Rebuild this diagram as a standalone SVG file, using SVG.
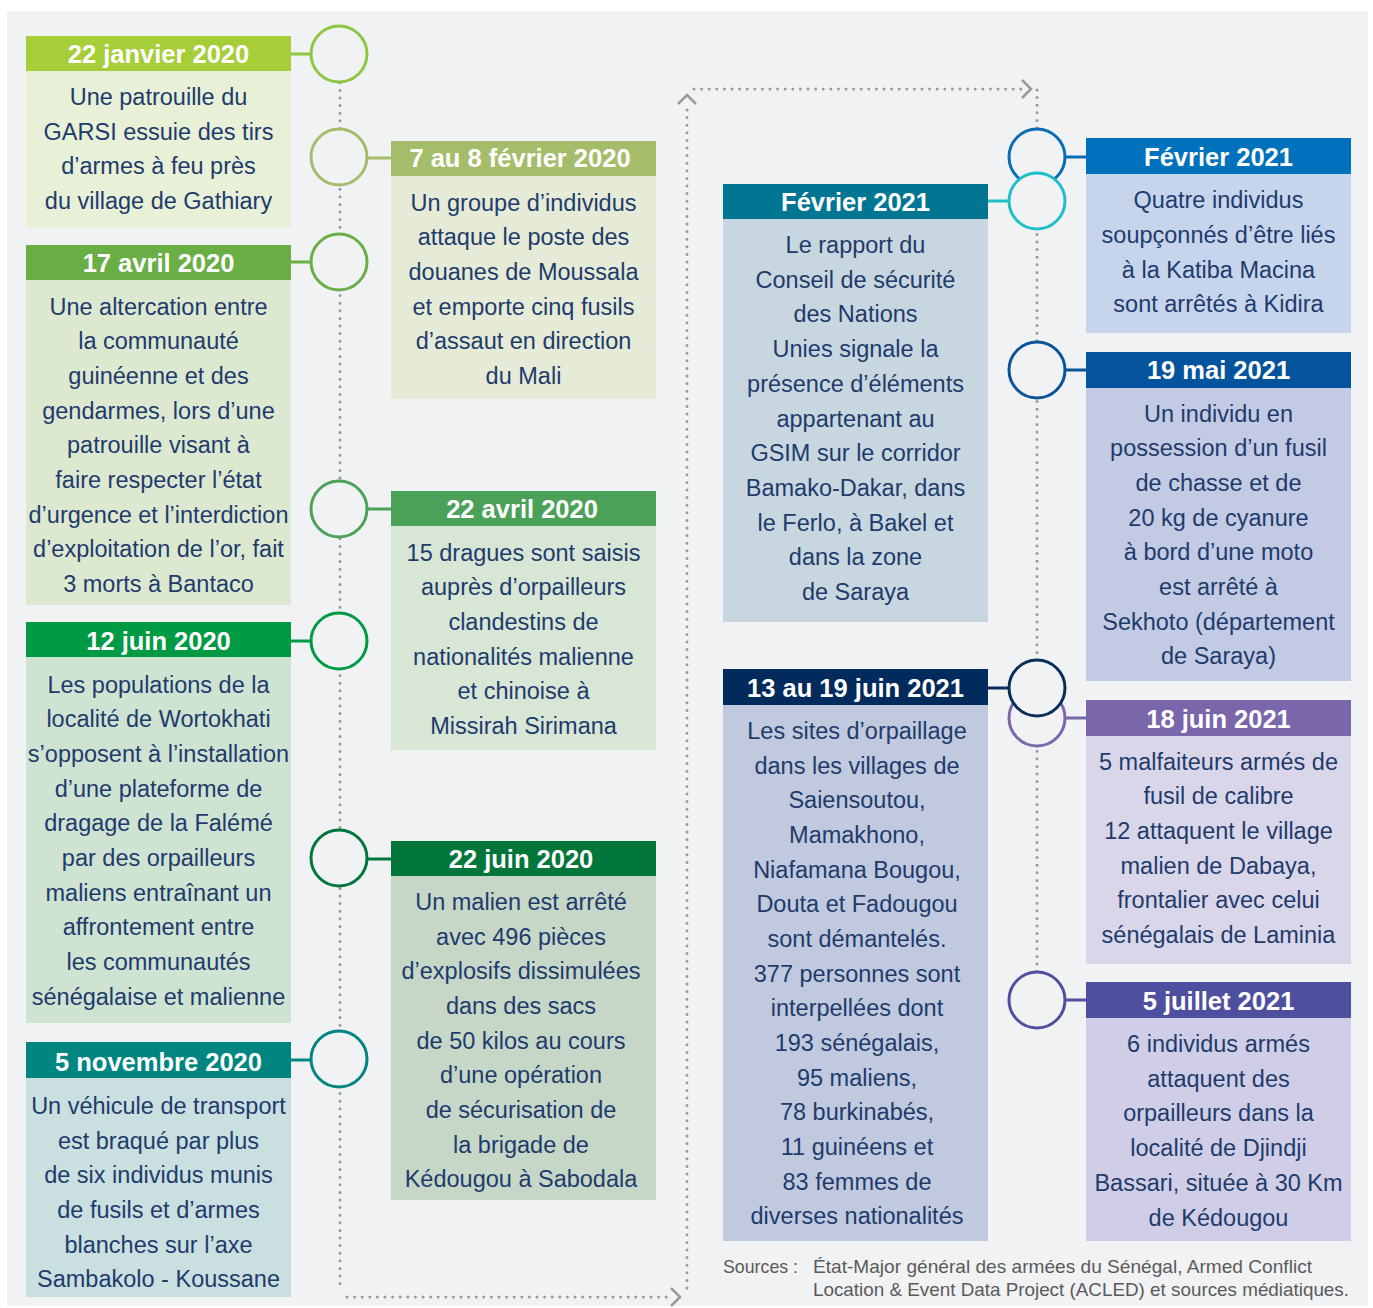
<svg xmlns="http://www.w3.org/2000/svg" width="1373" height="1308" viewBox="0 0 1373 1308">
<defs>
<style>
.hdr{font-family:"Liberation Sans",Arial,sans-serif;font-weight:bold;font-size:25.5px;fill:#ffffff;text-anchor:middle}
.body{font-family:"Liberation Sans",Arial,sans-serif;font-size:23.5px;fill:#1e3b6c;text-anchor:middle}
.src{font-family:"Liberation Sans",Arial,sans-serif;font-size:18.5px;fill:#5a5a5a}
.circ{fill:#f1f2f4;stroke-width:3}
.conn{stroke-width:3;fill:none}
.dots{fill:none;stroke:#9a9a9a;stroke-width:3;stroke-linecap:round;stroke-dasharray:0 7.6}
.chev{fill:none;stroke:#9a9a9a;stroke-width:2.5;stroke-linecap:butt;stroke-linejoin:miter}
</style>
</defs>
<rect x="0" y="0" width="1373" height="1308" fill="#ffffff"/>
<rect x="7" y="11" width="1361" height="1295" fill="#f1f2f4"/>

<g id="connectors">
<path class="dots" d="M340 60 V1290"/>
<path class="dots" d="M347 1297 H672"/>
<path class="chev" d="M671 1288 L680 1297 L671 1306"/>
<path class="dots" d="M687 1288 V104"/>
<path class="chev" d="M678 104 L687 95 L696 104"/>
<path class="dots" d="M694 89 H1022"/>
<path class="chev" d="M1022 80 L1031 89 L1022 98"/>
<path class="dots" d="M1037 90 V1000"/>
</g>

<g id="n1">
<rect x="26" y="36" width="265" height="35" fill="#a6ce39"/>
<rect x="26" y="71" width="265" height="157" fill="#e8f1d7"/>
<line class="conn" x1="291" y1="54" x2="312" y2="54" stroke="#8dc63f"/>
<circle class="circ" cx="339" cy="54" r="28" stroke="#8dc63f"/>
<text class="hdr" x="158.5" y="63">22 janvier 2020</text>
<text class="body"><tspan x="158.5" y="105">Une patrouille du</tspan><tspan x="158.5" y="140">GARSI essuie des tirs</tspan><tspan x="158.5" y="174">d’armes à feu près</tspan><tspan x="158.5" y="209">du village de Gathiary</tspan></text>
</g>

<g id="n2">
<rect x="391" y="141" width="265" height="35" fill="#a5bd6a"/>
<rect x="391" y="176" width="265" height="223" fill="#e5ebd6"/>
<line class="conn" x1="366" y1="158" x2="391" y2="158" stroke="#a5bd6a"/>
<circle class="circ" cx="339" cy="157" r="28" stroke="#a5bd6a"/>
<text class="hdr" x="520" y="167">7 au 8 février 2020</text>
<text class="body"><tspan x="523.5" y="211">Un groupe d’individus</tspan><tspan x="523.5" y="245">attaque le poste des</tspan><tspan x="523.5" y="280">douanes de Moussala</tspan><tspan x="523.5" y="315">et emporte cinq fusils</tspan><tspan x="523.5" y="349">d’assaut en direction</tspan><tspan x="523.5" y="384">du Mali</tspan></text>
</g>

<g id="n3">
<rect x="26" y="245" width="265" height="35" fill="#6aae46"/>
<rect x="26" y="280" width="265" height="325" fill="#dde8d1"/>
<line class="conn" x1="291" y1="262" x2="312" y2="262" stroke="#6aae46"/>
<circle class="circ" cx="339" cy="262" r="28" stroke="#6aae46"/>
<text class="hdr" x="158.5" y="272">17 avril 2020</text>
<text class="body"><tspan x="158.5" y="315">Une altercation entre</tspan><tspan x="158.5" y="349">la communauté</tspan><tspan x="158.5" y="384">guinéenne et des</tspan><tspan x="158.5" y="419">gendarmes, lors d’une</tspan><tspan x="158.5" y="453">patrouille visant à</tspan><tspan x="158.5" y="488">faire respecter l’état</tspan><tspan x="158.5" y="523">d’urgence et l’interdiction</tspan><tspan x="158.5" y="557">d’exploitation de l’or, fait</tspan><tspan x="158.5" y="592">3 morts à Bantaco</tspan></text>
</g>

<g id="n4">
<rect x="391" y="491" width="265" height="35" fill="#4ba157"/>
<rect x="391" y="526" width="265" height="224" fill="#d8e6d6"/>
<line class="conn" x1="366" y1="509" x2="391" y2="509" stroke="#4ba157"/>
<circle class="circ" cx="339" cy="509" r="28" stroke="#4ba157"/>
<text class="hdr" x="522" y="518">22 avril 2020</text>
<text class="body"><tspan x="523.5" y="561">15 dragues sont saisis</tspan><tspan x="523.5" y="595">auprès d’orpailleurs</tspan><tspan x="523.5" y="630">clandestins de</tspan><tspan x="523.5" y="665">nationalités malienne</tspan><tspan x="523.5" y="699">et chinoise à</tspan><tspan x="523.5" y="734">Missirah Sirimana</tspan></text>
</g>

<g id="n5">
<rect x="26" y="622" width="265" height="35" fill="#009a44"/>
<rect x="26" y="657" width="265" height="366" fill="#cfe3d2"/>
<line class="conn" x1="291" y1="641" x2="312" y2="641" stroke="#009a44"/>
<circle class="circ" cx="339" cy="641" r="28" stroke="#009a44"/>
<text class="hdr" x="158.5" y="650">12 juin 2020</text>
<text class="body"><tspan x="158.5" y="693">Les populations de la</tspan><tspan x="158.5" y="727">localité de Wortokhati</tspan><tspan x="158.5" y="762">s’opposent à l’installation</tspan><tspan x="158.5" y="797">d’une plateforme de</tspan><tspan x="158.5" y="831">dragage de la Falémé</tspan><tspan x="158.5" y="866">par des orpailleurs</tspan><tspan x="158.5" y="901">maliens entraînant un</tspan><tspan x="158.5" y="935">affrontement entre</tspan><tspan x="158.5" y="970">les communautés</tspan><tspan x="158.5" y="1005">sénégalaise et malienne</tspan></text>
</g>

<g id="n6">
<rect x="391" y="841" width="265" height="35" fill="#00763a"/>
<rect x="391" y="876" width="265" height="324" fill="#c6d7c7"/>
<line class="conn" x1="366" y1="859" x2="391" y2="859" stroke="#00763a"/>
<circle class="circ" cx="339" cy="858" r="28" stroke="#00763a"/>
<text class="hdr" x="521" y="868">22 juin 2020</text>
<text class="body"><tspan x="521" y="910">Un malien est arrêté</tspan><tspan x="521" y="945">avec 496 pièces</tspan><tspan x="521" y="979">d’explosifs dissimulées</tspan><tspan x="521" y="1014">dans des sacs</tspan><tspan x="521" y="1049">de 50 kilos au cours</tspan><tspan x="521" y="1083">d’une opération</tspan><tspan x="521" y="1118">de sécurisation de</tspan><tspan x="521" y="1153">la brigade de</tspan><tspan x="521" y="1187">Kédougou à Sabodala</tspan></text>
</g>

<g id="n7">
<rect x="26" y="1042" width="265" height="36" fill="#008580"/>
<rect x="26" y="1078" width="265" height="219" fill="#cadfe0"/>
<line class="conn" x1="291" y1="1060" x2="312" y2="1060" stroke="#008580"/>
<circle class="circ" cx="339" cy="1059" r="28" stroke="#008580"/>
<text class="hdr" x="158.5" y="1071">5 novembre 2020</text>
<text class="body"><tspan x="158.5" y="1114">Un véhicule de transport</tspan><tspan x="158.5" y="1149">est braqué par plus</tspan><tspan x="158.5" y="1183">de six individus munis</tspan><tspan x="158.5" y="1218">de fusils et d’armes</tspan><tspan x="158.5" y="1253">blanches sur l’axe</tspan><tspan x="158.5" y="1287">Sambakolo - Koussane</tspan></text>
</g>

<g id="n10">
<rect x="1086" y="138" width="265" height="36" fill="#0071bc"/>
<rect x="1086" y="174" width="265" height="159" fill="#c6d5ec"/>
<line class="conn" x1="1064" y1="157" x2="1086" y2="157" stroke="#0a6cb5"/>
<circle class="circ" cx="1037" cy="157" r="28" stroke="#0a6cb5"/>
<text class="hdr" x="1218.5" y="166">Février 2021</text>
<text class="body"><tspan x="1218.5" y="208">Quatre individus</tspan><tspan x="1218.5" y="243">soupçonnés d’être liés</tspan><tspan x="1218.5" y="278">à la Katiba Macina</tspan><tspan x="1218.5" y="312">sont arrêtés à Kidira</tspan></text>
</g>

<g id="n8">
<rect x="723" y="184" width="265" height="35" fill="#007692"/>
<rect x="723" y="219" width="265" height="403" fill="#c8d6df"/>
<line class="conn" x1="988" y1="201" x2="1010" y2="201" stroke="#1fbfc9"/>
<circle class="circ" cx="1037" cy="201" r="28" stroke="#1fbfc9"/>
<text class="hdr" x="855.5" y="211">Février 2021</text>
<text class="body"><tspan x="855.5" y="253">Le rapport du</tspan><tspan x="855.5" y="288">Conseil de sécurité</tspan><tspan x="855.5" y="322">des Nations</tspan><tspan x="855.5" y="357">Unies signale la</tspan><tspan x="855.5" y="392">présence d’éléments</tspan><tspan x="855.5" y="427">appartenant au</tspan><tspan x="855.5" y="461">GSIM sur le corridor</tspan><tspan x="855.5" y="496">Bamako-Dakar, dans</tspan><tspan x="855.5" y="531">le Ferlo, à Bakel et</tspan><tspan x="855.5" y="565">dans la zone</tspan><tspan x="855.5" y="600">de Saraya</tspan></text>
</g>

<g id="n11">
<rect x="1086" y="352" width="265" height="36" fill="#03549c"/>
<rect x="1086" y="388" width="265" height="293" fill="#c3cae3"/>
<line class="conn" x1="1064" y1="370" x2="1086" y2="370" stroke="#0b5499"/>
<circle class="circ" cx="1037" cy="370" r="28" stroke="#0b5499"/>
<text class="hdr" x="1218.5" y="379">19 mai 2021</text>
<text class="body"><tspan x="1218.5" y="422">Un individu en</tspan><tspan x="1218.5" y="456">possession d’un fusil</tspan><tspan x="1218.5" y="491">de chasse et de</tspan><tspan x="1218.5" y="526">20 kg de cyanure</tspan><tspan x="1218.5" y="560">à bord d’une moto</tspan><tspan x="1218.5" y="595">est arrêté à</tspan><tspan x="1218.5" y="630">Sekhoto (département</tspan><tspan x="1218.5" y="664">de Saraya)</tspan></text>
</g>

<g id="n12">
<rect x="1086" y="700" width="265" height="36" fill="#7966ab"/>
<rect x="1086" y="736" width="265" height="228" fill="#d9d6ea"/>
<line class="conn" x1="1064" y1="718" x2="1086" y2="718" stroke="#7b68ab"/>
<circle class="circ" cx="1037" cy="718" r="28" stroke="#7b68ab"/>
<text class="hdr" x="1218.5" y="728">18 juin 2021</text>
<text class="body"><tspan x="1218.5" y="770">5 malfaiteurs armés de</tspan><tspan x="1218.5" y="804">fusil de calibre</tspan><tspan x="1218.5" y="839">12 attaquent le village</tspan><tspan x="1218.5" y="874">malien de Dabaya,</tspan><tspan x="1218.5" y="908">frontalier avec celui</tspan><tspan x="1218.5" y="943">sénégalais de Laminia</tspan></text>
</g>

<g id="n9">
<rect x="723" y="669" width="265" height="36" fill="#002b5c"/>
<rect x="723" y="705" width="265" height="536" fill="#c0c9de"/>
<line class="conn" x1="988" y1="688" x2="1010" y2="688" stroke="#0a2d5a"/>
<circle class="circ" cx="1037" cy="688" r="28" stroke="#0a2d5a"/>
<text class="hdr" x="855.5" y="697">13 au 19 juin 2021</text>
<text class="body"><tspan x="857" y="739">Les sites d’orpaillage</tspan><tspan x="857" y="774">dans les villages de</tspan><tspan x="857" y="808">Saiensoutou,</tspan><tspan x="857" y="843">Mamakhono,</tspan><tspan x="857" y="878">Niafamana Bougou,</tspan><tspan x="857" y="912">Douta et Fadougou</tspan><tspan x="857" y="947">sont démantelés.</tspan><tspan x="857" y="982">377 personnes sont</tspan><tspan x="857" y="1016">interpellées dont</tspan><tspan x="857" y="1051">193 sénégalais,</tspan><tspan x="857" y="1086">95 maliens,</tspan><tspan x="857" y="1120">78 burkinabés,</tspan><tspan x="857" y="1155">11 guinéens et</tspan><tspan x="857" y="1190">83 femmes de</tspan><tspan x="857" y="1224">diverses nationalités</tspan></text>
</g>

<g id="n13">
<rect x="1086" y="982" width="265" height="36" fill="#4f4fa0"/>
<rect x="1086" y="1018" width="265" height="223" fill="#d0cee6"/>
<line class="conn" x1="1064" y1="1000" x2="1086" y2="1000" stroke="#514ea0"/>
<circle class="circ" cx="1037" cy="1000" r="28" stroke="#514ea0"/>
<text class="hdr" x="1218.5" y="1010">5 juillet 2021</text>
<text class="body"><tspan x="1218.5" y="1052">6 individus armés</tspan><tspan x="1218.5" y="1087">attaquent des</tspan><tspan x="1218.5" y="1121">orpailleurs dans la</tspan><tspan x="1218.5" y="1156">localité de Djindji</tspan><tspan x="1218.5" y="1191">Bassari, située à 30 Km</tspan><tspan x="1218.5" y="1226">de Kédougou</tspan></text>
</g>

<g id="sources">
<text class="src" x="723" y="1273" textLength="75" lengthAdjust="spacingAndGlyphs">Sources :</text>
<text class="src" x="813" y="1273" textLength="499" lengthAdjust="spacingAndGlyphs">État-Major général des armées du Sénégal, Armed Conflict</text>
<text class="src" x="813" y="1296" textLength="536" lengthAdjust="spacingAndGlyphs">Location &amp; Event Data Project (ACLED) et sources médiatiques.</text>
</g>
</svg>
